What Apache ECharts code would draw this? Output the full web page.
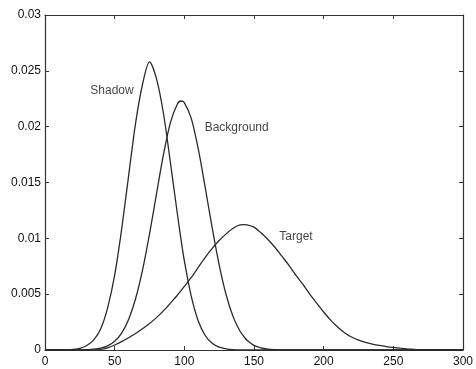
<!DOCTYPE html>
<html>
<head>
<meta charset="utf-8">
<script src="https://cdn.jsdelivr.net/npm/echarts@6/dist/echarts.min.js"></script>
<style>
  html, body { margin: 0; padding: 0; background: #fff; }
  #chart { width: 476px; height: 369px; }
</style>
</head>
<body>
<div id="chart"></div>
<script>
// Sample positions (intensity values) shared by all three curves
var xs = [0, 5, 10, 15, 20, 25, 30, 35, 40, 45, 50, 55, 60, 65, 70, 75, 80, 85, 90, 95, 97.5,
  100, 105, 110, 115, 120, 125, 130, 135, 140, 142.5, 145, 150, 155, 160, 165, 170, 175, 180, 185, 190, 195,
  200, 205, 210, 215, 220, 225, 230, 235, 240, 245, 250, 255, 260, 265, 270, 275, 280, 285, 290, 295, 300];

// Shadow distribution
var shadow = [0, 0, 0, 0, 0.00005, 0.00015, 0.0004, 0.0009, 0.0019, 0.0038, 0.0067, 0.0108, 0.0156, 0.0203, 0.0238, 0.0258, 0.0243, 0.0212, 0.0168, 0.0122, 0.0100,
  0.0080, 0.0048, 0.0026, 0.0013, 0.0006, 0.00025, 0.0001, 0.00003, 0, 0, 0, 0, 0, 0, 0, 0, 0, 0, 0, 0, 0,
  0, 0, 0, 0, 0, 0, 0, 0, 0, 0, 0, 0, 0, 0, 0, 0, 0, 0, 0, 0, 0];

// Background distribution
var background = [0, 0, 0, 0, 0, 0.00001, 0.00003, 0.00007, 0.00017, 0.00037, 0.00078, 0.00151, 0.00274, 0.00459, 0.00715, 0.01037, 0.01396, 0.01749, 0.02036, 0.02203, 0.0223,
  0.02216, 0.02072, 0.01801, 0.01455, 0.01093, 0.00763, 0.00495, 0.00299, 0.00168, 0.00125, 0.00087, 0.00042, 0.00019, 0.00008, 0.00003, 0, 0, 0, 0, 0, 0,
  0, 0, 0, 0, 0, 0, 0, 0, 0, 0, 0, 0, 0, 0, 0, 0, 0, 0, 0, 0, 0];

// Target distribution
var target = [0, 0, 0, 0, 0, 0, 0, 0, 0.00005, 0.0002, 0.00045, 0.00075, 0.0011, 0.00148, 0.0019, 0.00237, 0.0029, 0.0035, 0.0042, 0.0049, 0.0053,
  0.0057, 0.0065, 0.0074, 0.0083, 0.0091, 0.0098, 0.0104, 0.0109, 0.0112, 0.01122, 0.0112, 0.0110, 0.0105, 0.0099, 0.0092, 0.0084, 0.0076, 0.0067, 0.0059, 0.0050, 0.0042,
  0.0034, 0.00268, 0.00206, 0.00155, 0.00116, 0.00088, 0.00068, 0.00053, 0.00041, 0.00031, 0.00023, 0.00016, 0.0001, 0.00005, 0.00002, 0, 0, 0, 0, 0, 0];

// Curve annotations
var labelNames = ['Shadow', 'Background', 'Target'];
var labelX = [32.5, 114.6, 168.2];
var labelY = [0.0232, 0.0199, 0.01015];

// Axis tick values
var xTicks = [0, 50, 100, 150, 200, 250, 300];
var yTicks = [0, 0.005, 0.01, 0.015, 0.02, 0.025, 0.03];

function pairs(values) {
  return xs.map(function (x, i) { return [x, values[i]]; });
}

var font = '"Liberation Sans", Arial, sans-serif';
var ink = '#2a2a2a';

function lineSeries(name, values) {
  return {
    name: name,
    type: 'line',
    data: pairs(values),
    showSymbol: false,
    smooth: 0.3,
    lineStyle: { color: ink, width: 1.3 },
    silent: true,
    animation: false,
    z: 3
  };
}

function axisBase() {
  return {
    axisLine: { show: true, onZero: false, lineStyle: { color: '#333', width: 1.2 } },
    axisTick: { show: true, inside: true, length: 4, lineStyle: { color: '#333' } },
    splitLine: { show: false }
  };
}

var chart = echarts.init(document.getElementById('chart'), null, { renderer: 'canvas' });
chart.setOption({
  backgroundColor: '#fff',
  animation: false,
  grid: { left: 45, right: 7, top: 15, bottom: 19, containLabel: false },
  xAxis: [
    Object.assign(axisBase(), {
      type: 'value', min: xTicks[0], max: xTicks[xTicks.length - 1], interval: 50,
      position: 'bottom',
      axisLabel: { color: '#111', fontFamily: font, fontSize: 12, margin: 6,
        formatter: function (v) { return String(v); } }
    }),
    Object.assign(axisBase(), {
      type: 'value', min: xTicks[0], max: xTicks[xTicks.length - 1], interval: 50,
      position: 'top', axisLabel: { show: false }
    })
  ],
  yAxis: [
    Object.assign(axisBase(), {
      type: 'value', min: yTicks[0], max: yTicks[yTicks.length - 1], interval: 0.005,
      position: 'left',
      axisLabel: { color: '#111', fontFamily: font, fontSize: 12, margin: 4,
        formatter: function (v) { return String(+v.toFixed(3)); } }
    }),
    Object.assign(axisBase(), {
      type: 'value', min: yTicks[0], max: yTicks[yTicks.length - 1], interval: 0.005,
      position: 'right', axisLabel: { show: false }
    })
  ],
  series: [
    lineSeries('Shadow', shadow),
    lineSeries('Background', background),
    lineSeries('Target', target),
    {
      type: 'scatter',
      symbolSize: 0,
      silent: true,
      data: labelNames.map(function (n, i) { return { name: n, value: [labelX[i], labelY[i]] }; }),
      label: {
        show: true, position: 'right', distance: 0,
        formatter: function (p) { return p.name; },
        color: '#111', fontFamily: font, fontSize: 12
      }
    }
  ]
});
</script>
</body>
</html>
